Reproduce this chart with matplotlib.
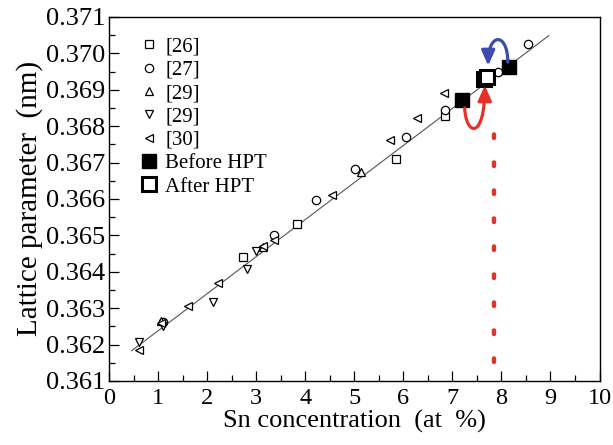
# coding: utf-8
"""Lattice parameter vs Sn concentration, literature data plus HPT samples."""
import matplotlib
matplotlib.use("Agg")
import matplotlib.pyplot as plt
from matplotlib.patches import FancyArrowPatch
from matplotlib.path import Path
from matplotlib.ticker import MultipleLocator, FormatStrFormatter

# literature data (x in at% Sn, y in nm)
ref26_x = [2.72, 3.83, 5.84, 6.85]
ref26_y = [0.36440, 0.36530, 0.36710, 0.36829]
ref27_x = [1.10, 3.37, 4.21, 5.02, 6.05, 6.85, 7.94, 8.55]
ref27_y = [0.36263, 0.36501, 0.36598, 0.36682, 0.36771, 0.36845, 0.36950, 0.37025]
ref29a_x = [1.05, 3.13, 5.14]
ref29a_y = [0.36265, 0.36469, 0.36673]
ref29b_x = [0.61, 1.10, 2.12, 2.81, 3.00]
ref29b_y = [0.36208, 0.36252, 0.36316, 0.36408, 0.36458]
ref30_x = [0.60, 1.05, 1.61, 2.22, 3.13, 3.37, 4.55, 5.73, 6.27, 6.83]
ref30_y = [0.36185, 0.36260, 0.36307, 0.36368, 0.36470, 0.36488, 0.36611, 0.36762, 0.36823, 0.36892]

before_x = [7.19, 8.15]
before_y = [0.36872, 0.36963]
after_x = [7.64, 7.71]
after_y = [0.36930, 0.36935]

# fitted line end points
fit_x = [0.46, 8.97]
fit_y = [0.36183, 0.37049]

# red dotted guide line
guide_x = [7.84, 7.84]
guide_y = [0.36153, 0.36795]

# curved arrows (cubic bezier: start, ctrl1, ctrl2, end)
red_path = [(7.25, 0.36850), (7.28, 0.36770), (7.66, 0.36765), (7.66, 0.36912)]
blue_path = [(8.13, 0.36976), (8.13, 0.37058), (7.73, 0.37058), (7.73, 0.36966)]

plt.rcParams["font.family"] = ["Liberation Serif", "DejaVu Serif"]

fig = plt.figure(figsize=(6.13, 4.45), dpi=100)
ax = fig.add_axes([0.178, 0.144, 0.800, 0.818])

ax.plot(fit_x, fit_y, color="#555555", lw=0.8, zorder=1)

mk = dict(linestyle="none", mfc="white", mec="black", mew=0.9, ms=6, zorder=3)
ax.plot(ref26_x, ref26_y, marker="s", label="[26]", **mk)
ax.plot(ref27_x, ref27_y, marker="o", label="[27]", **mk)
ax.plot(ref29a_x, ref29a_y, marker="^", label="[29]", **mk)
ax.plot(ref29b_x, ref29b_y, marker="v", label="[29]", **mk)
ax.plot(ref30_x, ref30_y, marker="<", label="[30]", **mk)
ax.plot(before_x, before_y, marker="s", linestyle="none", color="black",
        ms=10.5, zorder=4, label="Before HPT")
ax.plot(after_x, after_y, marker="s", linestyle="none", mfc="white", mec="black",
        mew=2.2, ms=10, zorder=4, label="After HPT")

ax.plot(guide_x, guide_y, color="#e8302a", lw=3.2,
        linestyle=(0, (0.8, 5.5)), dash_capstyle="round", zorder=2)

codes = [Path.MOVETO, Path.CURVE4, Path.CURVE4, Path.CURVE4]
for pts, col in [(red_path, "#e8302a"), (blue_path, "#3b4bb0")]:
    arr = FancyArrowPatch(path=Path(pts, codes),
                          arrowstyle="-|>,head_length=9,head_width=4",
                          color=col, lw=2.3, zorder=5)
    ax.add_patch(arr)

ax.set_xlim(0, 10)
ax.set_ylim(0.361, 0.371)
ax.xaxis.set_major_locator(MultipleLocator(1))
ax.xaxis.set_minor_locator(MultipleLocator(0.5))
ax.yaxis.set_major_locator(MultipleLocator(0.001))
ax.yaxis.set_minor_locator(MultipleLocator(0.0005))
ax.yaxis.set_major_formatter(FormatStrFormatter("%.3f"))
ax.tick_params(which="major", direction="in", length=7, width=0.9, labelsize=19)
ax.tick_params(axis="x", which="major", pad=5, labelsize=17.5)
ax.tick_params(axis="y", which="major", pad=3)
ax.tick_params(which="minor", direction="in", length=4, width=0.9)
for s in ax.spines.values():
    s.set_linewidth(1.0)

ax.set_xlabel("Sn concentration  (at  %)", fontsize=19, labelpad=1)
ax.set_ylabel("Lattice parameter  (nm)", fontsize=21, labelpad=2)

ax.legend(loc="upper left", frameon=False, fontsize=15, handlelength=1.0,
          handletextpad=0.3, labelspacing=0.18, borderaxespad=0.3,
          bbox_to_anchor=(0.03, 0.985))

fig.savefig("out.png", dpi=100)
